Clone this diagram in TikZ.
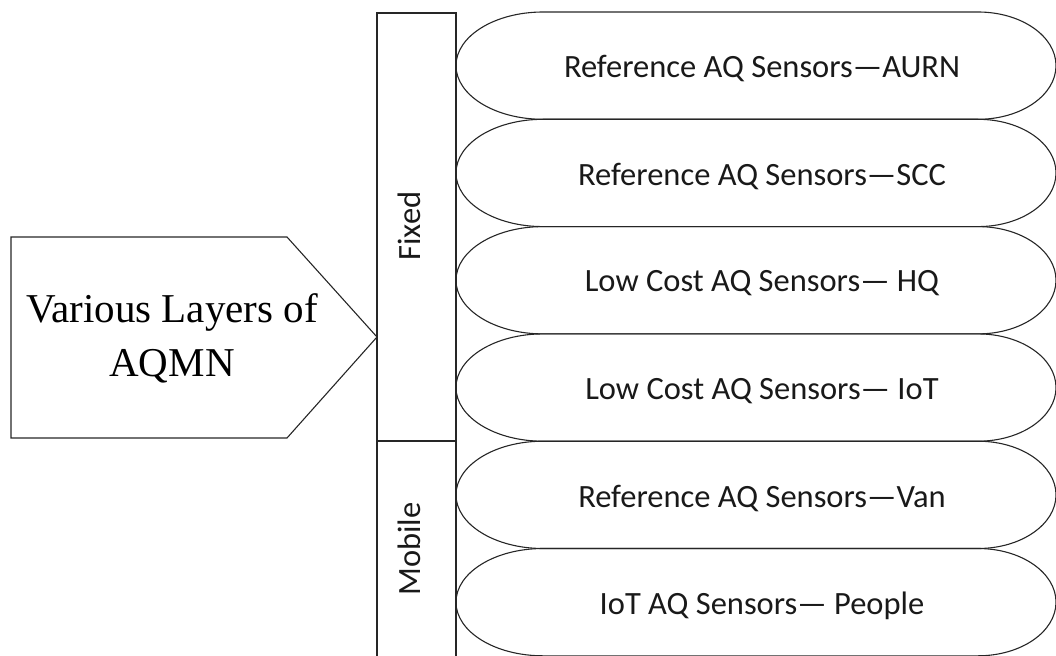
\documentclass[tikz,border=0pt]{standalone}
\usepackage{fontspec}
\setmainfont{Liberation Serif}
\newfontfamily\calfont{Carlito}
\begin{document}
\begin{tikzpicture}[x=1pt,y=1pt,
  ln/.style={draw=black!85,line width=1.1pt},
  lbl/.style={font=\calfont\fontsize{32.5}{38}\selectfont,text=black!90},
  side/.style={font=\calfont\fontsize{32.5}{38}\selectfont,text=black!90,rotate=90}]
\useasboundingbox (0,0) rectangle (1056,-655);
\begin{scope}
\clip (0,0) rectangle (1056,-655);
% pentagon
\draw[ln] (11,-237) -- (287,-237) -- (377,-337) -- (287,-438) -- (11,-438) -- cycle;
\node[font=\fontsize{41}{54}\selectfont,align=center] (title) at (172,-338) {Various Layers of\\AQMN};
% vertical bar
\draw[ln] (377,-13) rectangle (456,-670);
\draw[ln] (377,-441) -- (456,-441);
\node[side] (fixed) at (409,-226) {Fixed};
\node[side] (mobile) at (409,-549) {Mobile};
% stadiums
\foreach \t/\txt [count=\i] in {12/{Reference AQ Sensors—AURN},119.3/{Reference AQ Sensors—SCC},226.6/{Low Cost AQ Sensors— HQ},333.9/{Low Cost AQ Sensors— IoT},441.2/{Reference AQ Sensors—Van},548.5/{IoT AQ Sensors— People}}{
  \draw[ln] (543,-\t) -- (978,-\t) arc[start angle=90,end angle=-90,x radius=78,y radius=53.65] -- (543,-\t-107.3) arc[start angle=270,end angle=90,x radius=87,y radius=53.65];
  \node[lbl] (r\i) at (762,-\t-57) {\txt};
}
\end{scope}
\end{tikzpicture}
\end{document}
